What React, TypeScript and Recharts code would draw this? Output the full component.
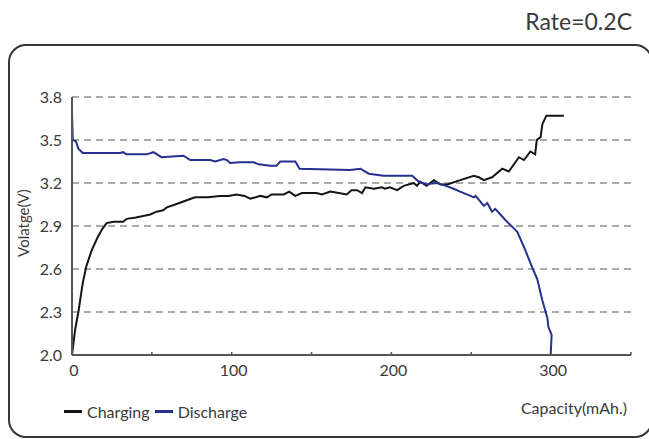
import React from "react";
import {
  LineChart,
  Line,
  XAxis,
  YAxis,
  CartesianGrid,
  Legend,
} from "recharts";

// capacity (mAh) / voltage (V) readings, 0.2C
const chargeCap = [
  0, 2, 4, 6.7, 9, 12.3, 16, 19, 21.7, 26, 32, 34.3, 40, 49, 53, 57, 59.4,
  64.6, 71.9, 77, 85, 92.8, 98, 103, 108, 111.6, 115, 118, 122, 125, 132.6,
  136, 139.8, 144, 153, 156.5, 161.8, 167, 172, 175, 178.5, 181.6, 183.7, 189,
  194, 196, 199, 203.6, 207.7, 214, 216, 218, 222, 226.6, 230.7, 235, 243,
  251.6, 254.7, 257.9, 263, 269.4, 273.5, 279.8, 283, 287, 290, 291, 293.4,
  294.5, 297, 308,
];
const chargeVolt = [
  2.0, 2.18, 2.3, 2.5, 2.62, 2.73, 2.82, 2.88, 2.92, 2.93, 2.93, 2.95, 2.96,
  2.98, 3.0, 3.01, 3.03, 3.05, 3.08, 3.1, 3.1, 3.11, 3.11, 3.12, 3.11, 3.09,
  3.1, 3.11, 3.1, 3.12, 3.12, 3.14, 3.11, 3.13, 3.13, 3.12, 3.14, 3.13, 3.12,
  3.15, 3.15, 3.13, 3.17, 3.16, 3.17, 3.16, 3.17, 3.15, 3.18, 3.2, 3.18, 3.21,
  3.18, 3.22, 3.19, 3.19, 3.22, 3.25, 3.24, 3.22, 3.24, 3.3, 3.28, 3.38, 3.36,
  3.42, 3.4, 3.5, 3.52, 3.61, 3.67, 3.67,
];

const dischargeCap = [
  0, 0.5, 2.5, 4, 6.7, 30, 32, 34, 46.8, 51, 56, 69.8, 74, 86.5, 89.7, 94.9,
  97, 99, 105, 113.7, 116.8, 124, 128, 130.4, 139.8, 142.5, 174, 180.6, 185.8,
  195, 213, 217, 222, 224, 228.6, 232.8, 239, 243, 249.5, 251.6, 252.7, 257.9,
  260, 263, 265, 271.5, 278.8, 283.5, 288.2, 291.3, 294.5, 297.6, 298.2,
  300.3, 299.7,
];
const dischargeVolt = [
  3.69, 3.5, 3.49, 3.44, 3.41, 3.41, 3.415, 3.4, 3.4, 3.415, 3.38, 3.39, 3.36,
  3.36, 3.35, 3.367, 3.36, 3.34, 3.345, 3.345, 3.33, 3.32, 3.32, 3.35, 3.35,
  3.3, 3.29, 3.3, 3.265, 3.25, 3.25, 3.21, 3.19, 3.195, 3.2, 3.185, 3.16, 3.14,
  3.11, 3.1, 3.11, 3.04, 3.06, 3.0, 3.02, 2.94, 2.86, 2.74, 2.61, 2.53, 2.38,
  2.26, 2.2, 2.14, 2.0,
];

const xTicks = [0, 50, 100, 150, 200, 250, 300, 350];
const yTicks = [2.0, 2.3, 2.6, 2.9, 3.2, 3.5, 3.8];

const chargeData = chargeCap.map((x, i) => ({ x, v: chargeVolt[i] }));
const dischargeData = dischargeCap.map((x, i) => ({ x, v: dischargeVolt[i] }));

const FONT = "Lato, 'Open Sans', sans-serif";
const TEXT = "#3a3a3a";
const AXIS = "#555";
const X_MARGIN = 10;

function XTick({ x, y, payload }: any) {
  const v = payload.value;
  return (
    <g>
      <line
        x1={x}
        x2={x}
        y1={y - X_MARGIN}
        y2={y - X_MARGIN - 3}
        stroke={AXIS}
        strokeWidth={1.5}
      />
      {v % 100 === 0 && (
        <text
          x={x + 2}
          y={y}
          dy="0.71em"
          textAnchor="middle"
          fill={TEXT}
          fontSize={16}
          fontFamily={FONT}
        >
          {v}
        </text>
      )}
    </g>
  );
}

function LegendBox() {
  const items = [
    { name: "Charging", color: "#151515" },
    { name: "Discharge", color: "#25308f" },
  ];
  return (
    <div style={{ display: "flex", alignItems: "center", fontFamily: FONT, fontSize: 16, color: TEXT }}>
      {items.map((it) => (
        <span key={it.name} style={{ display: "flex", alignItems: "center", marginRight: 5 }}>
          <span style={{ width: 18, height: 3, background: it.color, marginRight: 5 }} />
          {it.name}
        </span>
      ))}
    </div>
  );
}

export default function App() {
  return (
    <div
      style={{
        position: "absolute",
        left: 0,
        top: 0,
        width: 649,
        height: 439,
        overflow: "hidden",
        background: "#fff",
      }}
    >
      <div
        style={{
          position: "absolute",
          left: 8,
          top: 44,
          width: 641,
          height: 390,
          border: "2px solid #3a3535",
          borderRadius: 18,
        }}
      />
      <div
        style={{
          position: "absolute",
          right: 17,
          top: 7,
          fontFamily: FONT,
          fontSize: 23,
          color: TEXT,
        }}
      >
        Rate=0.2C
      </div>
      <div
        style={{
          position: "absolute",
          left: 23,
          top: 223,
          transform: "translate(-50%, -50%) rotate(-90deg)",
          fontFamily: FONT,
          fontSize: 15,
          color: TEXT,
          whiteSpace: "nowrap",
        }}
      >
        Volatge(V)
      </div>
      <div
        style={{
          position: "absolute",
          right: 22,
          top: 398,
          fontFamily: FONT,
          fontSize: 16,
          color: TEXT,
        }}
      >
        Capacity(mAh.)
      </div>
      <LineChart
        width={649}
        height={439}
        margin={{ top: 97, right: 18, left: 0, bottom: 54 }}
        style={{ position: "absolute", left: 0, top: 0 }}
      >
        <CartesianGrid
          horizontal
          vertical={false}
          stroke="#aaa"
          strokeWidth={2}
          strokeDasharray="7 5"
        />
        <XAxis
          type="number"
          dataKey="x"
          domain={[0, 350]}
          ticks={xTicks}
          allowDataOverflow
          height={30}
          tickLine={false}
          tickSize={0}
          tickMargin={X_MARGIN}
          tick={<XTick />}
          axisLine={{ stroke: AXIS, strokeWidth: 2 }}
        />
        <YAxis
          type="number"
          domain={[2.0, 3.8]}
          ticks={yTicks}
          width={72}
          tickLine={false}
          tickSize={0}
          tickMargin={10}
          tickFormatter={(v: number) => v.toFixed(1)}
          tick={{ fill: TEXT, fontSize: 16, fontFamily: FONT }}
          axisLine={{ stroke: AXIS, strokeWidth: 2 }}
        />
        <Legend
          layout="horizontal"
          align="center"
          verticalAlign="middle"
          content={() => <LegendBox />}
          wrapperStyle={{ left: 64, top: 402, width: "auto" }}
        />
        <Line
          name="Charging"
          data={chargeData}
          dataKey="v"
          type="linear"
          stroke="#151515"
          strokeWidth={2}
          dot={false}
          isAnimationActive={false}
        />
        <Line
          name="Discharge"
          data={dischargeData}
          dataKey="v"
          type="linear"
          stroke="#25308f"
          strokeWidth={2}
          dot={false}
          isAnimationActive={false}
        />
      </LineChart>
    </div>
  );
}
